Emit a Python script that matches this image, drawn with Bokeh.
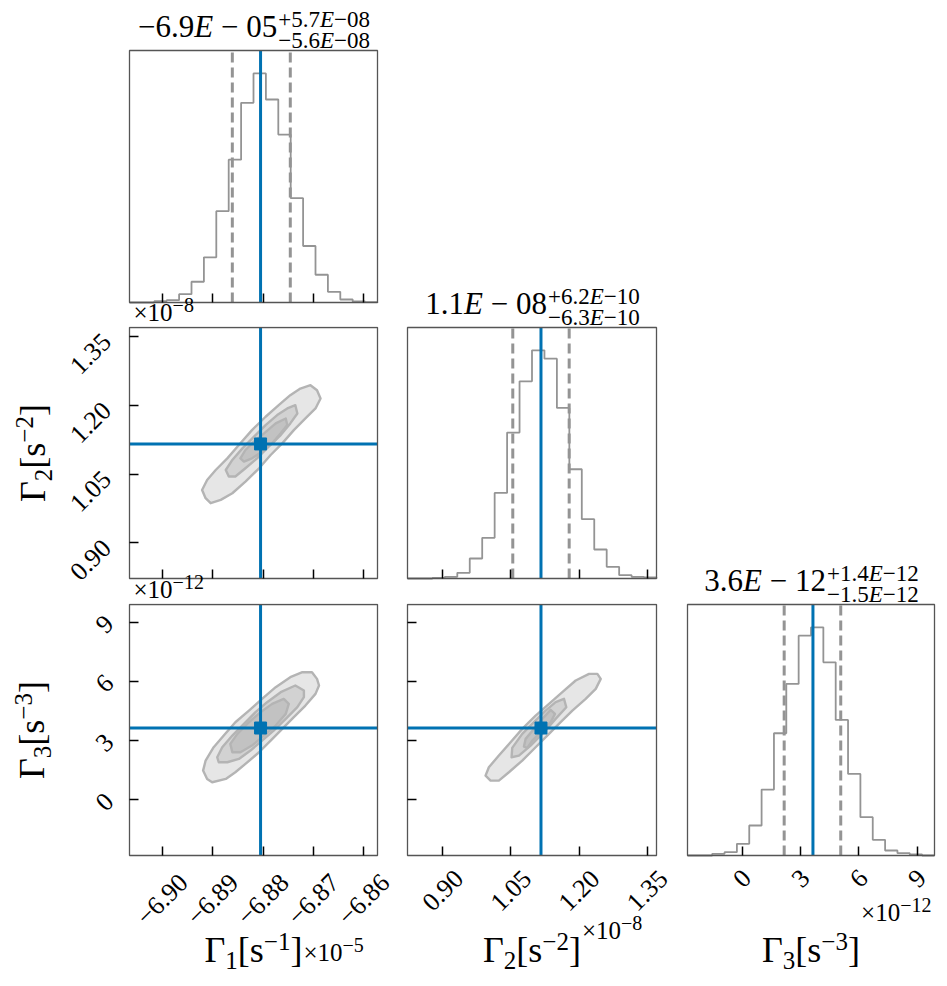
import numpy as np
from bokeh.plotting import figure
from bokeh.models import (Range1d, FixedTicker, Label, LabelSet,
                          ColumnDataSource, CustomJSTickFormatter)
from bokeh.core.properties import value
from bokeh.layouts import row, column
from bokeh.embed import file_html
from bokeh.resources import INLINE

# ---------------- data (Γ1 in 1e-5, Γ2 in 1e-8, Γ3 in 1e-12) ----------------
g1_range = [-6.9065, -6.8573]
g2_range = [0.8225, 1.3700]
g3_range = [-2.815, 9.895]

g1_ticks = [-6.90, -6.89, -6.88, -6.87, -6.86]
g1_tick_labels = ["−6.90", "−6.89", "−6.88", "−6.87", "−6.86"]
g2_ticks = [0.90, 1.05, 1.20, 1.35]
g2_tick_labels = ["0.90", "1.05", "1.20", "1.35"]
g3_ticks = [0, 3, 6, 9]
g3_tick_labels = ["0", "3", "6", "9"]

g1_hist = [0, 0, 4, 7, 25, 62, 135, 273, 427, 597, 685, 607, 502, 312, 169, 83, 32, 9, 3, 1]
g2_hist = [0, 0, 2, 5, 17, 60, 122, 257, 438, 592, 685, 660, 512, 328, 178, 87, 35, 10, 5, 3]
g3_hist = [0, 0, 5, 10, 35, 90, 198, 367, 515, 660, 685, 580, 407, 245, 115, 47, 15, 7, 3, 0]

g1_median, g1_lo, g1_hi = -6.8805, -6.8861, -6.8746
g2_median, g2_lo, g2_hi = 1.116, 1.054, 1.178
g3_median, g3_lo, g3_hi = 3.64, 2.16, 5.07

g1_title = ["−6.9E − 05", "+5.7E−08", "−5.6E−08"]
g2_title = ["1.1E − 08", "+6.2E−10", "−6.3E−10"]
g3_title = ["3.6E − 12", "+1.4E−12", "−1.5E−12"]

# contour polygons (levels: outer, middle, inner)
c12_outer_x = [-6.8706, -6.8693, -6.8686, -6.8696, -6.8716, -6.8739, -6.8762, -6.8785, -6.8808, -6.8835,
               -6.8861, -6.8884, -6.8904, -6.8914, -6.8921, -6.8911, -6.8894, -6.8871, -6.8848, -6.8822,
               -6.8795, -6.8769, -6.8746, -6.8726]
c12_outer_y = [1.2441, 1.2332, 1.2151, 1.1934, 1.1716, 1.1462, 1.1173, 1.0919, 1.0629, 1.0339,
               1.0085, 0.9940, 0.9867, 0.9976, 1.0157, 1.0375, 1.0592, 1.0846, 1.1137, 1.1462,
               1.1753, 1.2006, 1.2224, 1.2369]
c12_mid_x = [-6.8736, -6.8732, -6.8746, -6.8765, -6.8789, -6.8812, -6.8835, -6.8855, -6.8868, -6.8874,
             -6.8861, -6.8841, -6.8818, -6.8795, -6.8772, -6.8752]
c12_mid_y = [1.2006, 1.1825, 1.1608, 1.1354, 1.1101, 1.0846, 1.0630, 1.0449, 1.0449, 1.0592,
             1.0811, 1.1064, 1.1318, 1.1572, 1.1789, 1.1934]
c12_in_x = [-6.8755, -6.8752, -6.8765, -6.8782, -6.8802, -6.8822, -6.8838, -6.8845, -6.8835, -6.8818,
            -6.8798, -6.8775]
c12_in_y = [1.1716, 1.1572, 1.1391, 1.1173, 1.0992, 1.0846, 1.0775, 1.0846, 1.1028, 1.1209,
            1.1391, 1.1608]

c13_outer_x = [-6.8703, -6.8693, -6.8689, -6.8696, -6.8716, -6.8739, -6.8762, -6.8785, -6.8808, -6.8835,
               -6.8855, -6.8874, -6.8901, -6.8911, -6.8919, -6.8914, -6.8898, -6.8878, -6.8855, -6.8828,
               -6.8802, -6.8775, -6.8746, -6.8722]
c13_outer_y = [6.468, 6.130, 5.792, 5.370, 4.779, 4.188, 3.596, 3.005, 2.414, 1.823,
               1.400, 1.063, 0.894, 1.063, 1.485, 1.992, 2.667, 3.259, 3.934, 4.525,
               5.117, 5.708, 6.215, 6.468]
c13_mid_x = [-6.8736, -6.8719, -6.8719, -6.8732, -6.8755, -6.8779, -6.8802, -6.8825, -6.8848, -6.8871,
             -6.8888, -6.8891, -6.8881, -6.8861, -6.8838, -6.8815, -6.8792, -6.8765]
c13_mid_y = [5.792, 5.539, 5.201, 4.694, 4.103, 3.512, 3.005, 2.498, 2.076, 1.907,
             1.907, 2.161, 2.667, 3.259, 3.850, 4.441, 4.948, 5.455]
c13_in_x = [-6.8759, -6.8749, -6.8755, -6.8775, -6.8798, -6.8822, -6.8845, -6.8861, -6.8865, -6.8851,
            -6.8828, -6.8805, -6.8782]
c13_in_y = [5.117, 4.863, 4.357, 3.765, 3.259, 2.752, 2.414, 2.414, 2.836, 3.343,
            3.934, 4.441, 4.863]

c23_outer_x = [1.2217, 1.2400, 1.2474, 1.2364, 1.2143, 1.1850, 1.1592, 1.1336, 1.1042, 1.0748,
               1.0455, 1.0234, 1.0051, 0.9941, 1.0014, 1.0234, 1.0491, 1.0748, 1.1042, 1.1336,
               1.1629, 1.1923]
c23_outer_y = [6.384, 6.384, 6.130, 5.623, 5.117, 4.525, 3.934, 3.343, 2.667, 1.992,
               1.400, 0.978, 0.978, 1.232, 1.654, 2.245, 2.921, 3.596, 4.272, 4.863,
               5.455, 6.046]
c23_mid_x = [1.1666, 1.1717, 1.1482, 1.1225, 1.0932, 1.0675, 1.0513, 1.0528, 1.0748, 1.1005, 1.1262, 1.1482]
c23_mid_y = [5.117, 4.694, 4.103, 3.427, 2.752, 2.245, 2.161, 2.634, 3.343, 3.934, 4.525, 4.948]
c23_in_x = [1.1372, 1.1468, 1.1372, 1.1189, 1.0969, 1.0858, 1.0785, 1.0822, 1.1005, 1.1189]
c23_in_y = [4.559, 4.357, 3.934, 3.512, 3.005, 2.634, 2.701, 3.090, 3.596, 4.103]

# ---------------- style ----------------
FONT = "Liberation Serif"
BLUE = "#0072B2"
HIST_COLOR = "#949494"
FILLS = ["#e6e6e6", "#d2d2d2", "#c2c2c2"]
CLINE = "#b4b4b4"
BOX = "#555555"
TICK_FS = 26
OFF_FS, OFF_SUP = 25, 20
NB = "\u00a0"
BASE = 0.3375  # distance from text-box centre down to the alphabetic baseline, in em

CW = {"0": .5, "1": .5, "2": .5, "3": .5, "4": .5, "5": .5, "6": .5, "7": .5, "8": .5, "9": .5,
      ".": .25, "−": .564, "+": .564, "×": .564, "E": .611, " ": .25, NB: .25, "Γ": .578,
      "[": .333, "]": .333, "s": .389}


def tw(s, size):
    return sum(CW.get(ch, 0.5) for ch in s) * size


class Panel:
    """A figure whose frame is the whole canvas; the plotting box sits inside it."""

    def __init__(self, xr, yr, L, R, T, B, fw, fh):
        self.xr, self.yr, self.L, self.B, self.fw, self.fh = xr, yr, L, B, fw, fh
        sx = (xr[1] - xr[0]) / fw
        sy = (yr[1] - yr[0]) / fh
        p = figure(width=L + fw + R, height=T + fh + B,
                   x_range=Range1d(xr[0] - L * sx, xr[1] + R * sx),
                   y_range=Range1d(yr[0] - B * sy, yr[1] + T * sy),
                   output_backend="svg", toolbar_location=None, title=None,
                   min_border_left=0, min_border_right=0, min_border_top=0, min_border_bottom=0)
        p.xgrid.visible = False
        p.ygrid.visible = False
        p.outline_line_color = None
        p.background_fill_color = "white"
        p.border_fill_color = "white"
        self.p = p

    def box(self):
        self.p.quad(left=[self.xr[0]], right=[self.xr[1]], bottom=[self.yr[0]], top=[self.yr[1]],
                    fill_color=None, line_color=BOX, line_width=1.3)

    def style_axis(self, ax, ticks, loc):
        ax.fixed_location = loc
        ax.ticker = FixedTicker(ticks=ticks)
        ax.formatter = CustomJSTickFormatter(code="return ''")
        ax.major_tick_in = 9
        ax.major_tick_out = 0
        ax.minor_tick_in = 0
        ax.minor_tick_out = 0
        ax.major_tick_line_color = "black"
        ax.major_tick_line_width = 1.5
        ax.axis_line_color = None
        ax.major_label_text_font_size = "1px"
        ax.major_label_standoff = 0

    def rich(self, runs, x0, y0, vertical=False):
        """runs of (text, px size, baseline shift, style); (x0, y0) = baseline start, box-relative."""
        adv = 0.0
        for text, size, dy, style in runs:
            if vertical:
                lx, ly, ang = x0 - dy - BASE * size, y0 + adv, np.pi / 2
            else:
                lx, ly, ang = x0 + adv, y0 + dy + BASE * size, 0.0
            self.p.add_layout(Label(x=self.L + lx, y=self.B + ly, x_units="screen", y_units="screen",
                                    text=text.replace(" ", NB), angle=ang, text_font=FONT,
                                    text_font_size=f"{size}px", text_font_style=style,
                                    text_color="black", text_align="left", text_baseline="middle"))
            adv += tw(text, size)
        return adv

    def x_tick_labels(self, ticks, labels, yoff):
        src = ColumnDataSource(dict(x=ticks, y=[self.B + yoff] * len(ticks), text=labels))
        self.p.add_layout(LabelSet(x="x", y="y", text="text", source=src, x_units="data", y_units="screen",
                                   angle=np.pi / 4, text_align="center", text_baseline="middle",
                                   text_font=value(FONT), text_font_size=f"{TICK_FS}px",
                                   text_color="black"))

    def y_tick_labels(self, ticks, labels, xoff, yshift):
        src = ColumnDataSource(dict(x=[self.L + xoff] * len(ticks), y=ticks, text=labels))
        self.p.add_layout(LabelSet(x="x", y="y", text="text", source=src, x_units="screen", y_units="data",
                                   y_offset=yshift, angle=np.pi / 4, text_align="center",
                                   text_baseline="middle", text_font=value(FONT),
                                   text_font_size=f"{TICK_FS}px", text_color="black"))


def e_runs(s, size, dy=0):
    pre, post = s.split("E")
    return [(pre, size, dy, "normal"), ("E", size, dy, "italic"), (post, size, dy, "normal")]


def runs_width(runs):
    return sum(tw(t, s) for t, s, _, _ in runs)


def gamma_runs(i):
    return [("Γ", 36, 0, "normal"), (str(i), 25, -6, "normal"), ("[s", 36, 0, "normal"),
            (f"−{i}", 25, 13, "normal"), ("]", 36, 0, "normal")]


def offset_runs(exp):
    return [("×10", OFF_FS, 0, "normal"), (exp, OFF_SUP, 9, "normal")]


def hist_panel(P, counts, ticks, med, lo, hi, title_parts):
    p = P.p
    edges = np.linspace(P.xr[0], P.xr[1], len(counts) + 1)
    xs, ys = [edges[0]], [0]
    for i, c in enumerate(counts):
        xs += [edges[i], edges[i + 1]]
        ys += [c, c]
    xs.append(edges[-1])
    ys.append(0)
    p.line(xs, ys, line_color=HIST_COLOR, line_width=1.8)
    p.segment(x0=[lo, hi], y0=[P.yr[0]] * 2, x1=[lo, hi], y1=[P.yr[1]] * 2,
              line_color=HIST_COLOR, line_width=3, line_dash="10 5")
    p.segment(x0=[med], y0=[P.yr[0]], x1=[med], y1=[P.yr[1]], line_color=BLUE, line_width=3)
    P.style_axis(p.xaxis[0], ticks, P.yr[0])
    p.yaxis.visible = False
    P.box()
    main, sup, sub = title_parts
    rm, rs, rb = e_runs(main, 31), e_runs(sup, 23), e_runs(sub, 23)
    wm = runs_width(rm)
    ws = max(runs_width(rs), runs_width(rb))
    x0 = P.fw / 2 - (wm + ws) / 2
    P.rich(rm, x0, P.fh + 14)
    P.rich(rs, x0 + wm + 1, P.fh + 23)
    P.rich(rb, x0 + wm + 1, P.fh + 2)


def contour_panel(P, polys, xmed, ymed, xticks, yticks):
    p = P.p
    for (px, py), fc in zip(polys, FILLS):
        p.patch(px, py, fill_color=fc, line_color=CLINE, line_width=2.4, line_join="round")
    p.segment(x0=[xmed, P.xr[0]], y0=[P.yr[0], ymed], x1=[xmed, P.xr[1]], y1=[P.yr[1], ymed],
              line_color=BLUE, line_width=3)
    p.scatter([xmed], [ymed], marker="square", size=12, color=BLUE)
    P.style_axis(p.xaxis[0], xticks, P.yr[0])
    P.style_axis(p.yaxis[0], yticks, P.xr[0])
    P.box()


# ---------------- layout geometry ----------------
FW1, FW2, FW3 = 248, 249, 247
FH1, FH = 252, 251
L1, R1 = 129, 22
L2, R2 = 8, 18
L3, R3 = 13, 13

# column 1
P11 = Panel(g1_range, [0, 1.1 * max(g1_hist)], L1, R1, 50, 24, FW1, FH1)
hist_panel(P11, g1_hist, g1_ticks, g1_median, g1_lo, g1_hi, g1_title)
# offset text of the Γ2 axis (sits just above the row-2 box)
P11.rich(offset_runs("−8"), 4, -18)

P21 = Panel(g1_range, g2_range, L1, R1, 1, 25, FW1, FH)
contour_panel(P21, [(c12_outer_x, c12_outer_y), (c12_mid_x, c12_mid_y), (c12_in_x, c12_in_y)],
              g1_median, g2_median, g1_ticks, g2_ticks)
P21.y_tick_labels(g2_ticks, g2_tick_labels, -39, -17)
w = runs_width(gamma_runs(2))
P21.rich(gamma_runs(2), -84, FH / 2 - w / 2, vertical=True)
# offset text of the Γ3 axis (sits just above the row-3 box)
P21.rich(offset_runs("−12"), 4, -19)

P31 = Panel(g1_range, g3_range, L1, R1, 1, 120, FW1, FH)
contour_panel(P31, [(c13_outer_x, c13_outer_y), (c13_mid_x, c13_mid_y), (c13_in_x, c13_in_y)],
              g1_median, g3_median, g1_ticks, g3_ticks)
P31.y_tick_labels(g3_ticks, g3_tick_labels, -25, -2)
P31.x_tick_labels(g1_ticks, g1_tick_labels, -44)
w = runs_width(gamma_runs(3))
P31.rich(gamma_runs(3), -85, FH / 2 - w / 2, vertical=True)
w = runs_width(gamma_runs(1))
end = P31.rich(gamma_runs(1), FW1 / 2 - w / 2, -107)
P31.rich(offset_runs("−5"), FW1 / 2 - w / 2 + end + 1, -105)

# column 2
P22 = Panel(g2_range, [0, 1.1 * max(g2_hist)], L2, R2, 327, 25, FW2, FH)
hist_panel(P22, g2_hist, g2_ticks, g2_median, g2_lo, g2_hi, g2_title)

P32 = Panel(g2_range, g3_range, L2, R2, 1, 120, FW2, FH)
contour_panel(P32, [(c23_outer_x, c23_outer_y), (c23_mid_x, c23_mid_y), (c23_in_x, c23_in_y)],
              g2_median, g3_median, g2_ticks, g3_ticks)
P32.x_tick_labels(g2_ticks, g2_tick_labels, -35)
w = runs_width(gamma_runs(2))
end = P32.rich(gamma_runs(2), FW2 / 2 - w / 2, -107)
P32.rich(offset_runs("−8"), FW2 / 2 - w / 2 + end + 1, -83)

# column 3
P33 = Panel(g3_range, [0, 1.1 * max(g3_hist)], L3, R3, 604, 120, FW3, FH)
hist_panel(P33, g3_hist, g3_ticks, g3_median, g3_lo, g3_hi, g3_title)
P33.x_tick_labels(g3_ticks, g3_tick_labels, -23)
w = runs_width(gamma_runs(3))
P33.rich(gamma_runs(3), FW3 / 2 - w / 2, -107)
off = offset_runs("−12")
P33.rich(off, FW3 - 3 - runs_width(off), -65)

layout = row(column(P11.p, P21.p, P31.p), column(P22.p, P32.p), column(P33.p))

open("out.html", "w").write(file_html(layout, INLINE))
